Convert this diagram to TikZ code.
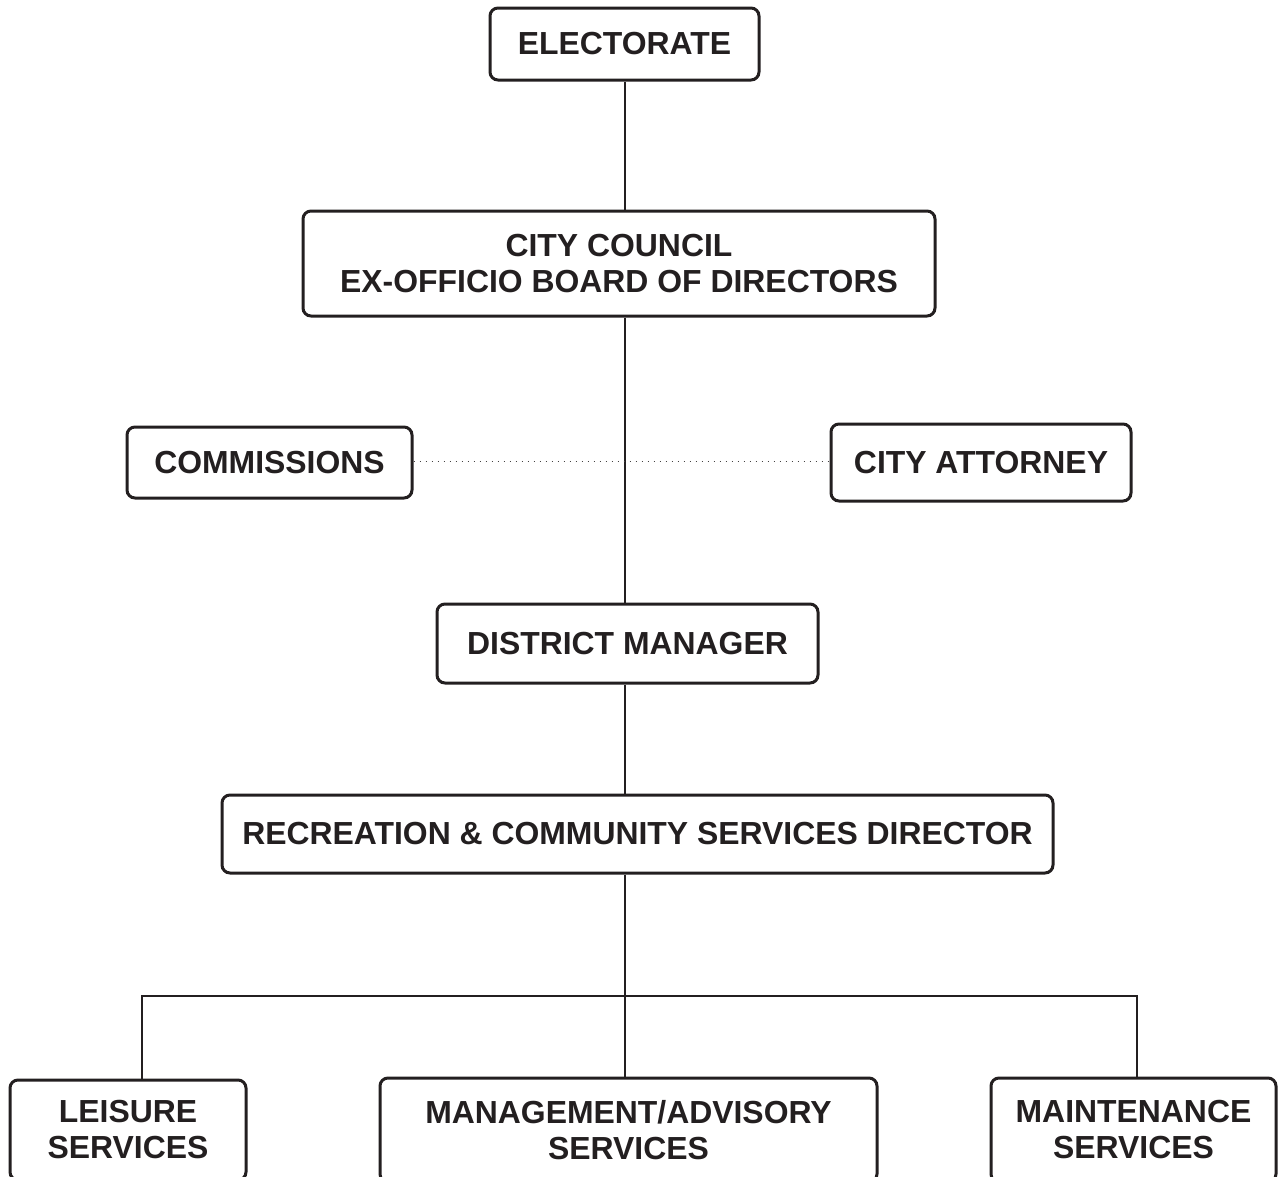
\documentclass[tikz,border=0pt]{standalone}
\usepackage{fontspec}
\setmainfont{Liberation Sans}
\begin{document}
\begin{tikzpicture}[x=1pt,y=1pt,
  box/.style={draw=ink, line width=3pt, rounded corners=8pt, align=center, inner sep=0pt,
    text=ink, font=\fontsize{31.9}{36}\selectfont\bfseries},
  conn/.style={draw=ink, line width=1.5pt},
  dotline/.style={draw=ink!85, line width=1.4pt, dash pattern=on 1.4pt off 4.6pt}]
\definecolor{ink}{HTML}{231F20}
\useasboundingbox (0,0) rectangle (1283,-1176);
\clip (0,0) rectangle (1283,-1176);
\node[box, minimum width=269pt, minimum height=72pt] (elect) at (624.5,-44) {ELECTORATE};
\node[box, minimum width=632pt, minimum height=105pt] (council) at (619,-263.5) {CITY COUNCIL\\EX-OFFICIO BOARD OF DIRECTORS};
\node[box, minimum width=285pt, minimum height=71pt] (comm) at (269.5,-462.5) {COMMISSIONS};
\node[box, minimum width=300pt, minimum height=77pt] (atty) at (981,-462.5) {CITY ATTORNEY};
\node[box, minimum width=381pt, minimum height=79pt] (dm) at (627.5,-643.5) {DISTRICT MANAGER};
\node[box, minimum width=831pt, minimum height=78pt] (rcs) at (637.5,-834) {RECREATION \& COMMUNITY SERVICES DIRECTOR};
\node[box, minimum width=236pt, minimum height=100pt] (leis) at (128,-1130) {LEISURE\\SERVICES};
\node[box, minimum width=497pt, minimum height=104pt] (mgmt) at (628.5,-1130) {MANAGEMENT/ADVISORY\\SERVICES};
\node[box, minimum width=285pt, minimum height=104pt] (maint) at (1133.5,-1130) {MAINTENANCE\\SERVICES};
\coordinate (spine) at (625,0);
\coordinate (busL) at (142,-996);
\coordinate (busR) at (1137,-996);
\draw[conn] (spine |- elect.south) -- (spine |- council.north);
\draw[conn] (spine |- council.south) -- (spine |- dm.north);
\draw[conn] (spine |- dm.south) -- (spine |- rcs.north);
\draw[conn] (spine |- rcs.south) -- (spine |- mgmt.north);
\draw[conn] (busL |- leis.north) -- (busL) -- (busR) -- (busR |- maint.north);
\draw[dotline] ([yshift=1pt]comm.east) -- ([yshift=1pt]comm.east -| atty.west);
\end{tikzpicture}
\end{document}
